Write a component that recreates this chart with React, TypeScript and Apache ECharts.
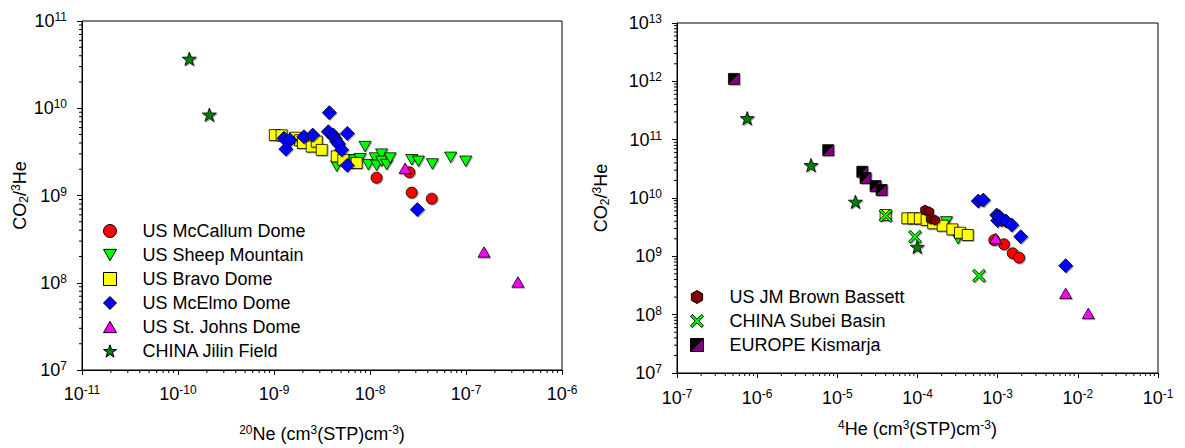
import React, { useEffect, useRef } from 'react';
import * as echarts from 'echarts';

const FONT = '"Liberation Sans", Arial, Helvetica, sans-serif';

// ---------- axis ranges ----------
const leftX = [1e-11, 1e-6];
const leftY = [1e7, 1e11];
const rightX = [1e-7, 1e-1];
const rightY = [1e7, 1e13];

// ---------- legend names ----------
const leftNames = [
  'US McCallum Dome',
  'US Sheep Mountain',
  'US Bravo Dome',
  'US McElmo Dome',
  'US St. Johns Dome',
  'CHINA Jilin Field',
];
const rightNames = ['US JM Brown Bassett', 'CHINA Subei Basin', 'EUROPE Kismarja'];

// ---------- left panel: 20Ne vs CO2/3He ----------
const mcCallumL = [[1.17e-8, 1.6e9], [2.57e-8, 1.85e9], [2.72e-8, 1.08e9], [4.4e-8, 9.2e8]];
const sheepL = [
  [4.5e-9, 2.17e9], [5.94e-9, 2.57e9], [6.6e-9, 2.55e9], [7.87e-9, 2.64e9], [8.87e-9, 3.64e9],
  [9.6e-9, 2.26e9], [1.13e-8, 2.69e9], [1.17e-8, 2.22e9], [1.32e-8, 2.98e9], [1.32e-8, 2.47e9],
  [1.49e-8, 2.26e9], [1.62e-8, 2.69e9], [2.72e-8, 2.57e9], [3.19e-8, 2.47e9], [4.46e-8, 2.3e9],
  [6.92e-8, 2.74e9], [9.93e-8, 2.47e9],
];
const bravoL = [
  [1.02e-9, 4.93e9], [1.2e-9, 4.9e9], [1.66e-9, 4.6e9], [1.87e-9, 4.3e9], [2.0e-9, 4.0e9],
  [2.47e-9, 3.64e9], [2.79e-9, 4.15e9], [3.14e-9, 3.33e9], [4.5e-9, 2.81e9], [5.27e-9, 2.57e9],
  [7.26e-9, 2.36e9],
];
const mcElmoL = [
  [1.27e-9, 4.52e9], [1.33e-9, 3.4e9], [1.47e-9, 4.33e9], [2.05e-9, 4.72e9], [2.53e-9, 4.93e9],
  [3.68e-9, 5.38e9], [3.77e-9, 8.9e9], [4.15e-9, 4.93e9], [4.32e-9, 4.52e9], [4.5e-9, 4.15e9],
  [4.7e-9, 3.9e9], [5.07e-9, 3.34e9], [5.8e-9, 5.15e9], [5.8e-9, 2.22e9], [3.11e-8, 6.9e8],
];
const stJohnsL = [[2.32e-8, 2.05e9], [1.54e-7, 2.25e8], [3.47e-7, 1.02e8]];
const jilinL = [[1.31e-10, 3.69e10], [2.12e-10, 8.45e9]];

// ---------- right panel: 4He vs CO2/3He ----------
const mcCallumR = [[9.08e-4, 1.9e9], [1.2e-3, 1.61e9], [1.54e-3, 1.13e9], [1.85e-3, 9.5e8]];
const sheepR = [[2.3e-4, 3.9e9], [3.2e-4, 2.0e9]];
const bravoR = [
  [4.0e-5, 5.1e9], [7.47e-5, 4.49e9], [8.87e-5, 4.49e9], [1.07e-4, 4.45e9], [1.3e-4, 4.2e9],
  [1.57e-4, 3.68e9], [2.06e-4, 3.35e9], [2.72e-4, 2.9e9], [3.39e-4, 2.54e9], [4.23e-4, 2.32e9],
];
const mcElmoR = [
  [5.73e-4, 8.88e9], [6.62e-4, 9.2e9], [9.73e-4, 5.1e9], [1.0e-3, 4.1e9], [1.05e-3, 4.78e9],
  [1.12e-3, 4.2e9], [1.27e-3, 4.04e9], [1.5e-3, 3.44e9], [1.94e-3, 2.17e9], [7.05e-3, 6.9e8],
];
const stJohnsR = [[9.44e-4, 2.04e9], [7.05e-3, 2.32e8], [1.35e-2, 1.05e8]];
const jilinR = [[7.5e-7, 2.33e11], [4.69e-6, 3.66e10], [1.68e-5, 8.6e9], [9.93e-5, 1.45e9]];
const brownR = [[1.24e-4, 6.2e9], [1.4e-4, 5.8e9], [1.46e-4, 4.36e9], [1.65e-4, 4.2e9]];
const subeiR = [[4.0e-5, 5.0e9], [9.3e-5, 2.17e9], [5.85e-4, 4.66e8]];
const kismarjaR = [
  [5.13e-7, 1.1e12], [7.7e-6, 6.6e10], [2.05e-5, 2.82e10], [2.25e-5, 2.2e10],
  [3.0e-5, 1.6e10], [3.57e-5, 1.37e10],
];

// ---------- symbols ----------
const STAR =
  'path://M50,0L61.76,33.82L97.55,34.55L69.02,56.18L79.39,90.45L50,70L20.61,90.45L30.98,56.18L2.45,34.55L38.24,33.82Z';
const TRI_DOWN = 'path://M0,0L100,0L50,87Z';
const TRI_UP = 'path://M50,0L100,87L0,87Z';
const HEX = 'path://M50,0L93.3,25L93.3,75L50,100L6.7,75L6.7,25Z';
const CROSS =
  'path://M0,14L14,0L50,36L86,0L100,14L64,50L100,86L86,100L50,64L14,100L0,86L36,50Z';

const KIS_COLOR = {
  type: 'linear', x: 0, y: 0, x2: 1, y2: 1,
  colorStops: [
    { offset: 0, color: '#000000' },
    { offset: 0.5, color: '#000000' },
    { offset: 0.5, color: '#800080' },
    { offset: 1, color: '#800080' },
  ],
};

function sc(name: string, data: number[][], idx: number, symbol: string, size: number, color: any) {
  return {
    type: 'scatter',
    name,
    data,
    xAxisIndex: idx,
    yAxisIndex: idx,
    symbol,
    symbolSize: size,
    symbolKeepAspect: true,
    itemStyle: {
      color,
      borderColor: '#000',
      borderWidth: 0.8,
      opacity: 1,
      shadowColor: 'rgba(0,0,0,0.35)',
      shadowOffsetX: 1,
      shadowOffsetY: 1,
      shadowBlur: 0,
    },
    emphasis: { disabled: true },
    silent: true,
    z: 3,
  };
}

function minorVals(lo: number, hi: number) {
  const out: number[] = [];
  const e0 = Math.round(Math.log10(lo));
  const e1 = Math.round(Math.log10(hi));
  for (let e = e0; e < e1; e++) {
    for (let m = 2; m <= 9; m++) out.push(m * Math.pow(10, e));
  }
  return out;
}

function minorTicks(idx: number, xr: number[], yr: number[]) {
  const xs = {
    type: 'custom',
    name: '_mx' + idx,
    xAxisIndex: idx,
    yAxisIndex: idx,
    silent: true,
    clip: false,
    z: 6,
    data: minorVals(xr[0], xr[1]).map((v) => [v, yr[0]]),
    renderItem: (_p: any, api: any) => {
      const c = api.coord([api.value(0), api.value(1)]);
      return {
        type: 'line',
        shape: { x1: c[0], y1: c[1], x2: c[0], y2: c[1] + 3 },
        style: { stroke: '#000', lineWidth: 1 },
      };
    },
  };
  const ys = {
    type: 'custom',
    name: '_my' + idx,
    xAxisIndex: idx,
    yAxisIndex: idx,
    silent: true,
    clip: false,
    z: 6,
    data: minorVals(yr[0], yr[1]).map((v) => [xr[0], v]),
    renderItem: (_p: any, api: any) => {
      const c = api.coord([api.value(0), api.value(1)]);
      return {
        type: 'line',
        shape: { x1: c[0] - 3, y1: c[1], x2: c[0], y2: c[1] },
        style: { stroke: '#000', lineWidth: 1 },
      };
    },
  };
  return [xs, ys];
}

const tickRich = {
  b: { fontSize: 18, lineHeight: 20, fontFamily: FONT, color: '#000' },
  s: { fontSize: 12, lineHeight: 12, verticalAlign: 'top', fontFamily: FONT, color: '#000' },
};
const nameRich = {
  b: { fontSize: 18, lineHeight: 20, fontFamily: FONT, color: '#000' },
  sup: { fontSize: 12, lineHeight: 12, verticalAlign: 'top', fontFamily: FONT, color: '#000' },
  sub: { fontSize: 12, lineHeight: 12, verticalAlign: 'bottom', fontFamily: FONT, color: '#000' },
};

const powLabel = (v: number) => {
  const e = Math.round(Math.log10(v));
  return `{b|10}{s|${e}}`;
};

function xAxis(idx: number, r: number[], name: string, nameGap: number, margin: number) {
  return {
    type: 'log',
    logBase: 10,
    gridIndex: idx,
    min: r[0],
    max: r[1],
    name,
    nameLocation: 'middle',
    nameGap,
    nameTextStyle: { rich: nameRich },
    axisLine: { show: true, lineStyle: { color: '#000', width: 1 } },
    axisTick: { show: true, inside: false, length: 5, lineStyle: { color: '#000', width: 1 } },
    axisLabel: { margin, formatter: powLabel, rich: tickRich },
    splitLine: { show: false },
  };
}

function yAxis(idx: number, r: number[], nameGap: number) {
  return {
    type: 'log',
    logBase: 10,
    gridIndex: idx,
    min: r[0],
    max: r[1],
    name: '{b|CO}{sub|2}{b|/}{sup|3}{b|He}',
    nameLocation: 'middle',
    nameRotate: 90,
    nameGap,
    nameTextStyle: { rich: nameRich },
    axisLine: { show: true, lineStyle: { color: '#000', width: 1 } },
    axisTick: { show: true, inside: false, length: 5, lineStyle: { color: '#000', width: 1 } },
    axisLabel: { margin: 15, formatter: powLabel, rich: tickRich },
    splitLine: { show: false },
  };
}

function legend(names: string[], left: number, top: number) {
  return {
    data: names,
    left,
    top,
    padding: 0,
    orient: 'vertical',
    itemWidth: 13,
    itemHeight: 13,
    itemGap: 6,
    selectedMode: false,
    itemStyle: { borderColor: '#000', borderWidth: 1 },
    textStyle: { fontSize: 18, lineHeight: 18, fontFamily: FONT, color: '#000', padding: [0, 0, 0, 21] },
  };
}

const option = {
  animation: false,
  textStyle: { fontFamily: FONT },
  grid: [
    { left: 82, top: 21, width: 480, height: 354, show: true, borderColor: '#000', borderWidth: 1 },
    { left: 677, top: 23, width: 481, height: 350, show: true, borderColor: '#000', borderWidth: 1 },
  ],
  xAxis: [
    xAxis(0, leftX, '{sup|20}{b|Ne (cm}{sup|3}{b|(STP)cm}{sup|-3}{b|)}', 54, 14),
    xAxis(1, rightX, '{sup|4}{b|He (cm}{sup|3}{b|(STP)cm}{sup|-3}{b|)}', 46, 15),
  ],
  yAxis: [yAxis(0, leftY, 51.5), yAxis(1, rightY, 66.5)],
  legend: [legend(leftNames, 103, 222), legend(rightNames, 690, 288)],
  series: [
    sc(leftNames[0], mcCallumL, 0, 'circle', 11, '#FF0000'),
    sc(leftNames[1], sheepL, 0, TRI_DOWN, 12, '#00FF00'),
    sc(leftNames[2], bravoL, 0, 'rect', 11, '#FFFF00'),
    sc(leftNames[3], mcElmoL, 0, 'diamond', 14, '#0000FF'),
    sc(leftNames[4], stJohnsL, 0, TRI_UP, 12, '#FF00FF'),
    sc(leftNames[5], jilinL, 0, STAR, 14, '#008000'),

    sc(leftNames[0], mcCallumR, 1, 'circle', 11, '#FF0000'),
    sc(leftNames[1], sheepR, 1, TRI_DOWN, 12, '#00FF00'),
    sc(leftNames[2], bravoR, 1, 'rect', 11, '#FFFF00'),
    sc(leftNames[3], mcElmoR, 1, 'diamond', 14, '#0000FF'),
    sc(leftNames[4], stJohnsR, 1, TRI_UP, 12, '#FF00FF'),
    sc(leftNames[5], jilinR, 1, STAR, 14, '#008000'),
    sc(rightNames[0], brownR, 1, HEX, 10, '#800000'),
    sc(rightNames[1], subeiR, 1, CROSS, 13, '#00FF00'),
    sc(rightNames[2], kismarjaR, 1, 'rect', 11, KIS_COLOR),

    ...minorTicks(0, leftX, leftY),
    ...minorTicks(1, rightX, rightY),
  ],
};

export default function App() {
  const ref = useRef<HTMLDivElement>(null);
  useEffect(() => {
    document.body.style.margin = '0';
    const chart = echarts.init(ref.current as HTMLDivElement, null, { renderer: 'svg' });
    chart.setOption(option as any);
    return () => chart.dispose();
  }, []);
  return <div ref={ref} style={{ width: 1185, height: 448 }} />;
}
